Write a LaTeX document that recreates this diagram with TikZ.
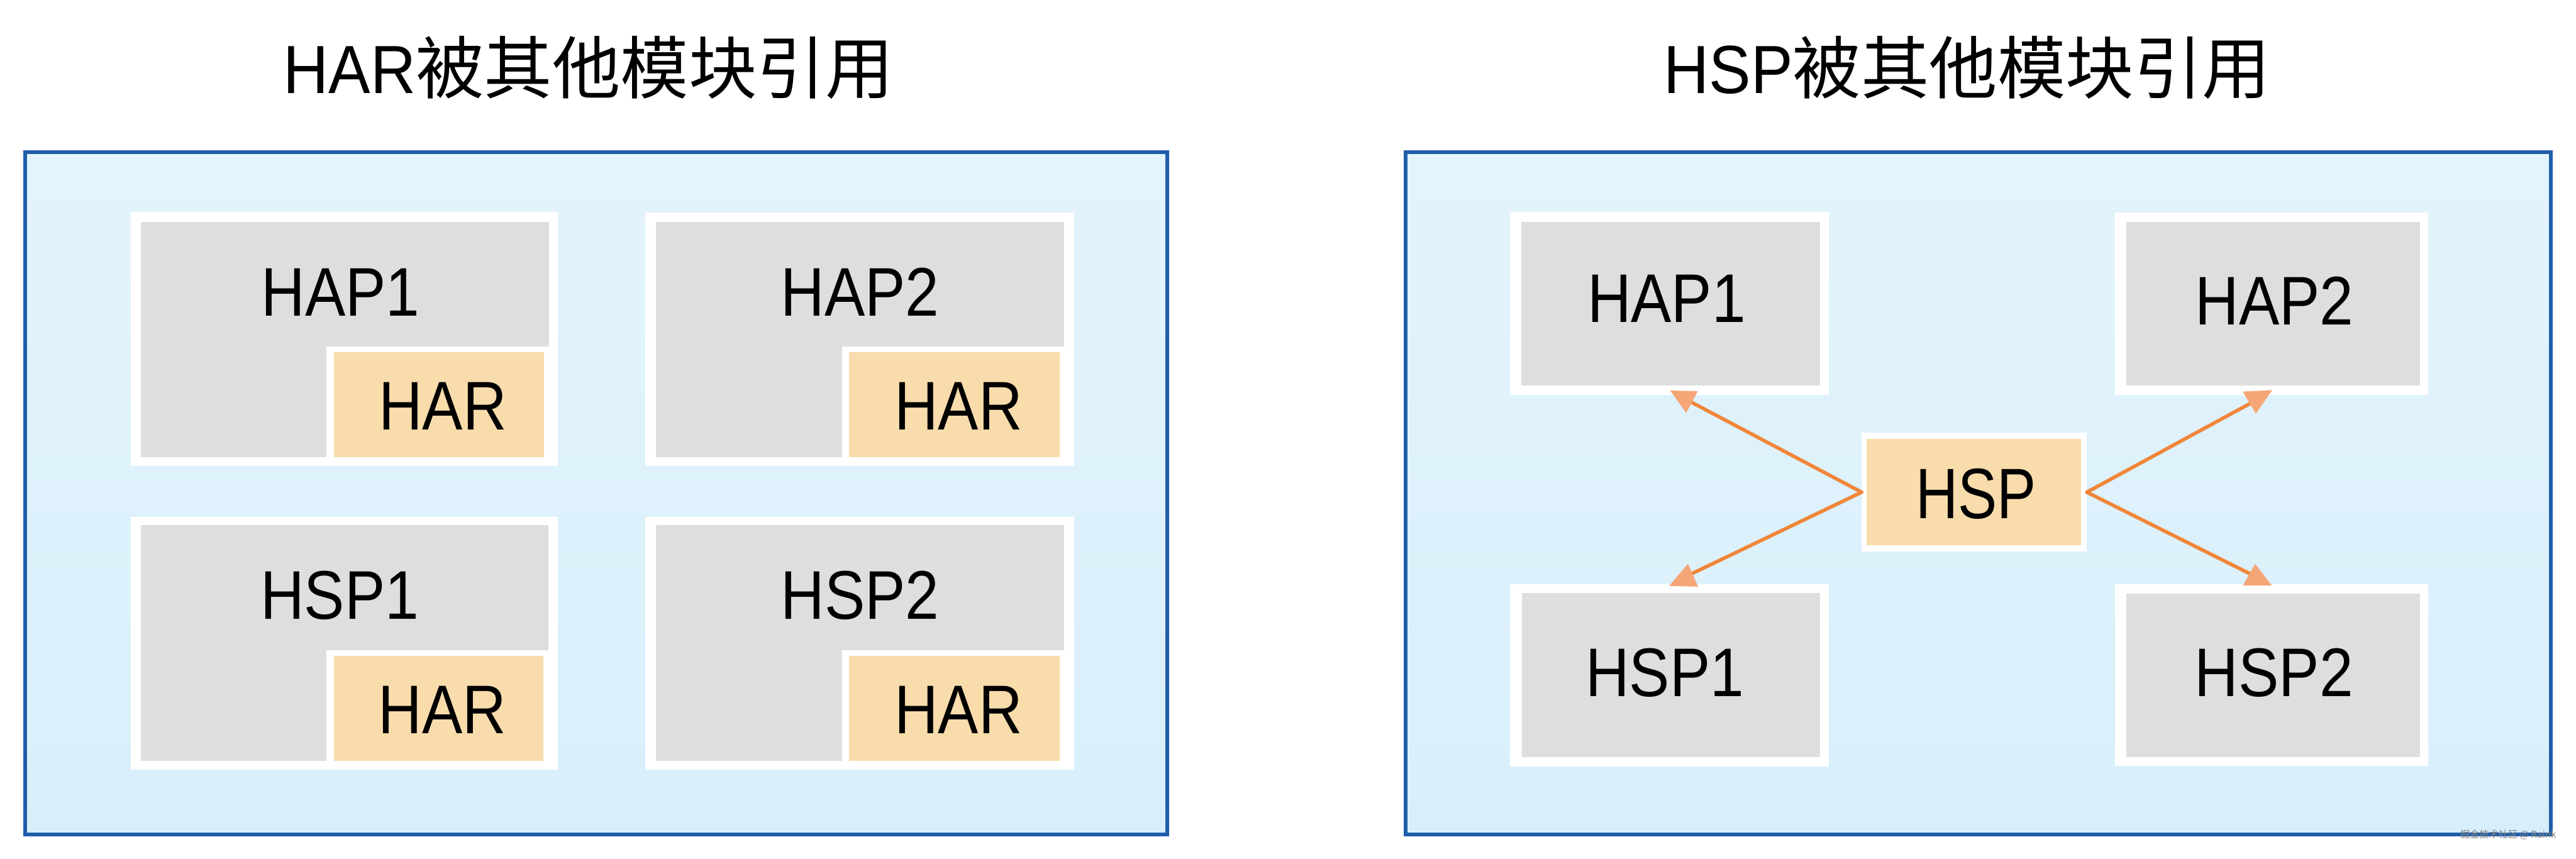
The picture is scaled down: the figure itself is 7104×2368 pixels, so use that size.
\documentclass[tikz,border=0pt]{standalone}
\usepackage{fontspec}
\setmainfont{Liberation Sans}
\newfontfamily\lab{Liberation Sans}[FakeStretch=0.88]
\newfontfamily\labc{Liberation Sans}[FakeStretch=0.82]
\newfontfamily\ttl{Liberation Sans}[FakeStretch=0.92]
\newfontfamily\cjk{Noto Sans CJK SC}
\usetikzlibrary{fit}
\definecolor{panelfill}{HTML}{D8EFFB}
\definecolor{panelline}{HTML}{1F5EAA}
\definecolor{greyfill}{HTML}{DEDEDE}
\definecolor{harfill}{HTML}{F8DCAC}
\definecolor{arrline}{HTML}{F0863A}
\definecolor{arrhead}{HTML}{F5A676}
\begin{document}
\begin{tikzpicture}[x=0.01cm,y=-0.01cm,
  rbox/.style={fit={#1}, inner sep=0pt, outer sep=0pt, rectangle},
  panel/.style={rbox={#1}, top color=panelfill!70!white, bottom color=panelfill, draw=panelline, line width=3.1pt},
  wframe/.style={rbox={#1}, fill=white},
  greybox/.style={rbox={#1}, fill=greyfill},
  harbox/.style={rbox={#1}, fill=harfill},
  lbl/.style={anchor=base, inner sep=0pt, font=\lab\fontsize{54pt}{60pt}\selectfont},
  ttlstyle/.style={anchor=base, inner sep=0pt, font=\fontsize{53.5pt}{60pt}\selectfont},
  link/.style={draw=arrline, line width=2.8pt, line cap=round},
  tri/.style={fill=arrhead}]
\useasboundingbox (0,0) rectangle (7104,2368);

% titles
\node[ttlstyle] (titleL) at (1623,258) {{\ttl HAR}{\cjk 被其他模块引用}};
\node[ttlstyle] (titleR) at (5425,258) {{\ttl HSP}{\cjk 被其他模块引用}};

% panels
\node[panel={(69,420)(3219,2301)}] (panelL) {};
\node[panel={(3876,420)(7034,2301)}] (panelR) {};

% ---------- left panel ----------
% top-left
\node[wframe={(360,585)(1539,1285)}] (lf1) {};
\node[greybox={(389,612)(1514,1260)}] (lg1) {};
\node[wframe={(900,955)(1514,1260)}] (lw1) {};
\node[harbox={(921,972)(1500,1260)}] (lh1) {};
\node[lbl] (lt1) at (939,871) {HAP1};
\node[lbl] (la1) at (1221,1185) {HAR};
% top-right
\node[wframe={(1780,586)(2962,1285)}] (lf2) {};
\node[greybox={(1809,612)(2935,1260)}] (lg2) {};
\node[wframe={(2322,955)(2935,1260)}] (lw2) {};
\node[harbox={(2341,971)(2922,1260)}] (lh2) {};
\node[lbl] (lt2) at (2372,871) {HAP2};
\node[lbl] (la2) at (2643,1185) {HAR};
% bottom-left
\node[wframe={(360,1425)(1539,2122)}] (lf3) {};
\node[greybox={(389,1449)(1513,2098)}] (lg3) {};
\node[wframe={(900,1793)(1513,2098)}] (lw3) {};
\node[harbox={(921,1809)(1499,2098)}] (lh3) {};
\node[lbl] (lt3) at (937,1708) {HSP1};
\node[lbl] (la3) at (1220,2023) {HAR};
% bottom-right
\node[wframe={(1780,1425)(2962,2122)}] (lf4) {};
\node[greybox={(1809,1449)(2935,2098)}] (lg4) {};
\node[wframe={(2322,1793)(2935,2098)}] (lw4) {};
\node[harbox={(2341,1809)(2922,2098)}] (lh4) {};
\node[lbl] (lt4) at (2372,1708) {HSP2};
\node[lbl] (la4) at (2643,2023) {HAR};

% ---------- right panel ----------
\node[wframe={(4164,585)(5043,1090)}] (rf1) {};
\node[greybox={(4196,613)(5019,1064)}] (rg1) {};
\node[lbl] (rt1) at (4596,888) {HAP1};

\node[wframe={(5832,586)(6696,1090)}] (rf2) {};
\node[greybox={(5864,612)(6674,1064)}] (rg2) {};
\node[lbl] (rt2) at (6272,896) {HAP2};

\node[wframe={(4164,1611)(5043,2114)}] (rf3) {};
\node[greybox={(4197,1636)(5019,2089)}] (rg3) {};
\node[lbl] (rt3) at (4591,1921) {HSP1};

\node[wframe={(5833,1611)(6696,2112)}] (rf4) {};
\node[greybox={(5864,1637)(6674,2088)}] (rg4) {};
\node[lbl] (rt4) at (6271,1921) {HSP2};

\node[wframe={(5134,1194)(5755,1521)}] (hsp) {};
\node[harbox={(5148,1210)(5739,1504)}] (hspin) {};
\node[lbl, font=\labc\fontsize{56pt}{60pt}\selectfont] (hspt) at (5449,1430) {HSP};

% connector ends
\coordinate (eul) at (4662,1108);
\coordinate (eur) at (6214,1108);
\coordinate (ell) at (4666,1582);
\coordinate (elr) at (6206,1583);

\draw[link] (hsp.west) -- (eul);
\draw[link] (hsp.west) -- (ell);
\draw[link] (hsp.east) -- (eur);
\draw[link] (hsp.east) -- (elr);

% arrow heads
\fill[tri] (4606,1077) -- (4682,1079) -- (4650,1139) -- cycle;
\fill[tri] (6185,1080) -- (6266,1076) -- (6221,1141) -- cycle;
\fill[tri] (4603,1616) -- (4683,1618) -- (4655,1555) -- cycle;
\fill[tri] (6185,1615) -- (6265,1615) -- (6219,1555) -- cycle;

% watermark
\node[anchor=east, inner sep=0pt, text=gray, font=\cjk\fontsize{7.5pt}{8pt}\selectfont] (wm) at (7050,2302) {掘金技术社区 @ Raink};
\end{tikzpicture}
\end{document}
